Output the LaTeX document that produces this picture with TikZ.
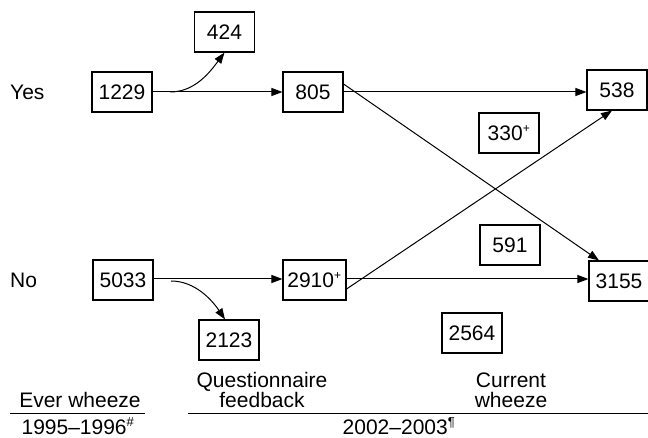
\documentclass[tikz,border=0pt]{standalone}
\usepackage{fontspec}
\setmainfont{Liberation Sans}
\usetikzlibrary{arrows.meta}
\begin{document}
\begin{tikzpicture}[x=1pt,y=-1pt,
  font=\fontsize{21}{23}\selectfont,
  box/.style={draw, line width=1.1pt, minimum width=60pt, minimum height=40pt, inner sep=0pt},
  arr/.style={line width=1pt, -{Triangle[length=11pt,width=8pt]}},
  rule/.style={line width=1pt},
  lbl/.style={inner sep=0pt},
  twoline/.style={inner sep=0pt, align=center, font=\fontsize{21}{20}\selectfont}]
\useasboundingbox (0,0) rectangle (648,438);

% count boxes
\node[box] (n424)  at (224.5,32) {424};
\node[box] (n1229) at (122,92)  {1229};
\node[box] (n805)  at (313,92)  {805};
\node[box] (n538)  at (617,90)  {538};
\node[box] (n330)  at (509,133) {330$^{\mbox{\fontsize{12}{12}\selectfont+}}$};
\node[box] (n5033) at (123,280) {5033};
\node[box, minimum width=63pt] (n2910) at (314.5,280) {2910$^{\mbox{\fontsize{12}{12}\selectfont+}}$};
\node[box] (n2123) at (229,340) {2123};
\node[box] (n591)  at (510,245) {591};
\node[box] (n3155) at (619,281) {3155};
\node[box] (n2564) at (472,333) {2564};

% row labels
\node[lbl, anchor=west] (yes) at (10,92) {Yes};
\node[lbl, anchor=west] (no)  at (10,280) {No};

% column headings
\node[lbl] (ever) at (80,400) {Ever wheeze};
\node[twoline] (qf) at (262,390) {Questionnaire\\feedback};
\node[twoline] (cw) at (511,390) {Current\\wheeze};
\node[lbl] (y95)  at (78,426) {1995--1996$^{\mbox{\fontsize{13}{13}\selectfont\#}}$};
\node[lbl] (y02)  at (399,426) {2002--2003$^{\mbox{\fontsize{13}{13}\selectfont\P}}$};

\coordinate (r1a) at (10,413);
\coordinate (r1b) at (145,413);
\coordinate (r2a) at (188,413);
\coordinate (r2b) at (648,413);
\draw[rule] (r1a) -- (r1b);
\draw[rule] (r2a) -- (r2b);

% flows
\coordinate (s1) at (170,92);
\coordinate (s2) at (171,281);
\draw[arr] (n1229.east) -- (n805.west);
\draw[arr] (s1) .. controls (195,92) and (210,72) .. (n424.south);
\draw[arr] ([yshift=1pt]n5033.east) -- ([yshift=1pt]n2910.west);
\draw[arr] (s2) .. controls (195,281) and (212,300) .. ([xshift=-4pt]n2123.north);

\draw[arr] (n805.east) -- (n805.east -| n538.west);
\draw[arr] ([yshift=8pt]n805.east) -- ([xshift=-20pt]n3155.north);
\draw[arr] ([yshift=-9pt]n2910.east) -- ([xshift=-5pt]n538.south);
\draw[arr] ([yshift=1pt]n2910.east) -- ([yshift=1pt]n2910.east -| n3155.west);
\end{tikzpicture}
\end{document}
